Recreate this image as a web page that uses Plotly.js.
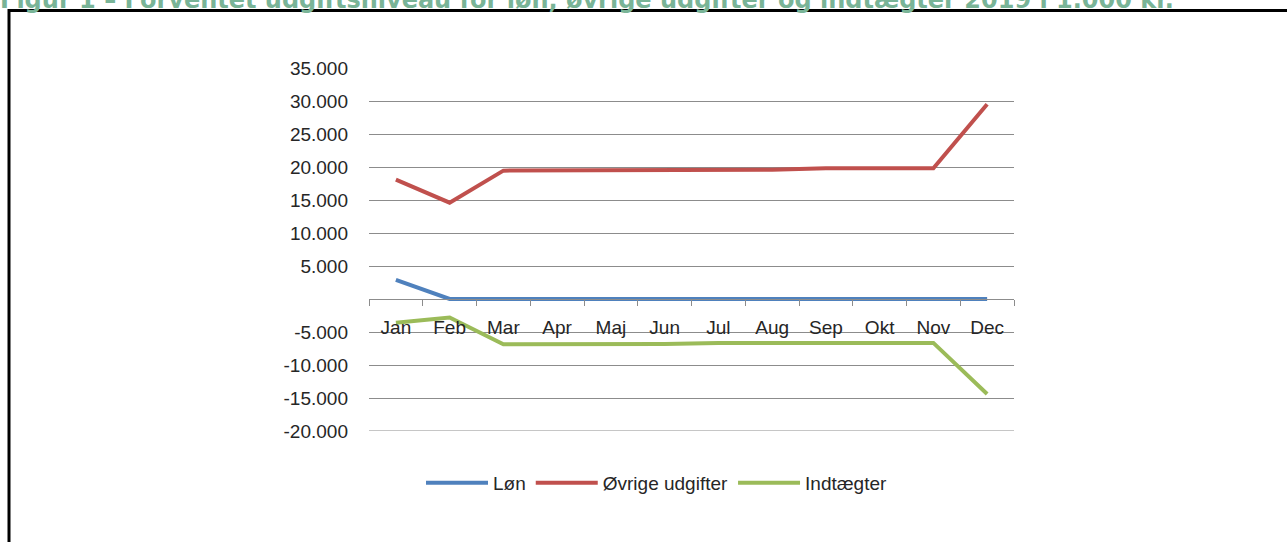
<!DOCTYPE html>
<html>
<head>
<meta charset="utf-8">
<script src="https://cdn.plot.ly/plotly-3.0.1.min.js"></script>
<style>
  html, body { margin: 0; padding: 0; background: #fff; }
  #chart { width: 1287px; height: 542px; }
</style>
</head>
<body>
<div id="chart"></div>
<script>
const months = ["Jan", "Feb", "Mar", "Apr", "Maj", "Jun", "Jul", "Aug", "Sep", "Okt", "Nov", "Dec"];
const lon = [2900, 0, 0, 0, 0, 0, 0, 0, 0, 0, 0, 0];
const ovrigeUdgifter = [18100, 14600, 19450, 19450, 19550, 19600, 19600, 19600, 19800, 19800, 19800, 29500];
const indtaegter = [-3600, -2800, -6850, -6850, -6850, -6800, -6650, -6650, -6650, -6650, -6650, -14400];
const yTickVals = [-20000, -15000, -10000, -5000, 0, 5000, 10000, 15000, 20000, 25000, 30000, 35000];
const yTickText = ["-20.000", "-15.000", "-10.000", "-5.000", "", "5.000", "10.000", "15.000", "20.000", "25.000", "30.000", "35.000"];
const titleText = "Figur 1 \u2013 Forventet udgiftsniveau for løn, øvrige udgifter og indtægter 2019 i 1.000 kr.";

const fontFam = "Liberation Sans, Arial, sans-serif";
const W = 1287, H = 542;
const yMin = -20000, yMax = 35000;
const L = 369, R = 273, T = 68, B = 111;
const pw = W - L - R, ph = H - T - B;
const px = x => (x - L) / pw;
const py = y => (H - B - y) / ph;

const traces = [
  {name: "Løn", x: months, y: lon, type: "scatter", mode: "lines",
   line: {color: "#4f81bd", width: 4}},
  {name: "Øvrige udgifter", x: months, y: ovrigeUdgifter, type: "scatter", mode: "lines",
   line: {color: "#c0504d", width: 4}},
  {name: "Indtægter", x: months, y: indtaegter, type: "scatter", mode: "lines",
   line: {color: "#9bbb59", width: 4}}
];

const layout = {
  width: W, height: H,
  margin: {l: L, r: R, t: T, b: B, pad: 0},
  paper_bgcolor: "#fff", plot_bgcolor: "#fff",
  font: {family: fontFam, size: 19, color: "#262626"},
  showlegend: true,
  legend: {orientation: "h", x: px(657), xanchor: "center", y: py(483), yanchor: "middle",
           font: {family: fontFam, size: 19, color: "#262626"}, itemwidth: 62, tracegroupgap: 0},
  xaxis: {type: "category", range: [-0.5, 11.5], anchor: "free", position: -yMin / (yMax - yMin),
          showline: true, linecolor: "#8c8c8c", linewidth: 1, showgrid: false, zeroline: false,
          ticks: "outside", tickson: "boundaries", ticklen: 6, tickcolor: "#8c8c8c", tickwidth: 1,
          ticklabelstandoff: 11, tickfont: {family: fontFam, size: 19, color: "#262626"}, fixedrange: true},
  yaxis: {range: [yMin, yMax], domain: [0, 1], tickvals: yTickVals, ticktext: yTickText,
          showgrid: true, gridcolor: "#8c8c8c", gridwidth: 1, zeroline: false, showline: false,
          ticks: "", ticklabelstandoff: 20, tickfont: {family: fontFam, size: 19, color: "#262626"}, fixedrange: true},
  shapes: [
    {type: "line", xref: "x domain", yref: "y", x0: 0, x1: 1, y0: yMin, y1: yMin, layer: "below",
     line: {color: "#8c8c8c", width: 1}},
    {type: "path", xref: "paper", yref: "paper",
     path: `M ${px(9)} ${py(560)} L ${px(9)} ${py(10.5)} L ${px(1300)} ${py(10.5)}`,
     line: {color: "#000", width: 3}}
  ],
  annotations: [
    {text: titleText, xref: "paper", yref: "paper", x: px(-2), y: py(16.5), xanchor: "left", yanchor: "bottom",
     showarrow: false, font: {family: "DejaVu Sans, Verdana, sans-serif", size: 24, color: "#79b497", weight: "bold"}}
  ]
};

Plotly.newPlot("chart", traces, layout, {displayModeBar: false, staticPlot: true});
</script>
</body>
</html>
